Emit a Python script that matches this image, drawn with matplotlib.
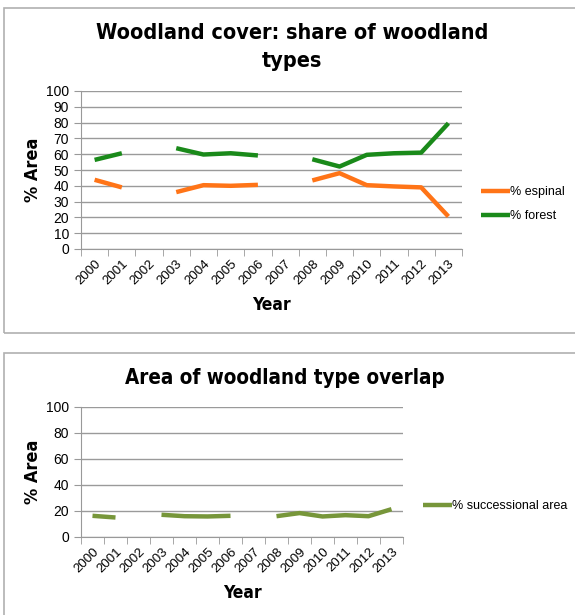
import numpy as np
import matplotlib.pyplot as plt
from matplotlib.patches import Rectangle

years = ["2000", "2001", "2002", "2003", "2004", "2005", "2006",
         "2007", "2008", "2009", "2010", "2011", "2012", "2013"]
espinal = [43.8, 39.0, np.nan, 36.0, 40.4, 40.0, 40.6,
           np.nan, 43.4, 48.0, 40.4, 39.6, 39.0, 20.6]
forest = [56.4, 60.6, np.nan, 63.8, 59.8, 60.6, 59.2,
          np.nan, 56.8, 52.2, 59.6, 60.6, 61.0, 79.6]
successional = [16.3, 15.0, np.nan, 17.1, 16.0, 15.8, 16.3,
                np.nan, 16.0, 18.4, 15.8, 16.8, 16.0, 21.4]

plt.rcParams['font.family'] = ['Liberation Sans', 'DejaVu Sans']
heavy = dict(family='DejaVu Sans', fontstretch='condensed', fontweight='heavy')

fig = plt.figure(figsize=(5.75, 6.15), dpi=100)
W, H = 575, 615

# panel frames
fig.patches.append(Rectangle((4 / W, 1 - 333 / H), 1.0, 325 / H,
                             transform=fig.transFigure, fill=False,
                             edgecolor="#b0b0b0", lw=1.2))
fig.patches.append(Rectangle((4 / W, -0.05), 1.0, 1 - 353 / H + 0.05,
                             transform=fig.transFigure, fill=False,
                             edgecolor="#b0b0b0", lw=1.2))


def style_axes(ax, ymax, ystep):
    x = np.arange(len(years))
    ax.set_xlim(-0.5, len(years) - 0.5)
    ax.set_ylim(0, ymax)
    ax.set_yticks(np.arange(0, ymax + 1, ystep))
    ax.set_xticks(x)
    ax.set_xticklabels(years, rotation=45, ha="right", rotation_mode="anchor",
                       fontsize=9.5)
    ax.set_xticks(np.arange(-0.5, len(years)), minor=True)
    ax.tick_params(axis="x", which="major", length=0, pad=6)
    ax.tick_params(axis="x", which="minor", length=5, color="#999999")
    ax.tick_params(axis="y", length=5, color="#999999", labelsize=10)
    ax.grid(axis="y", color="#9a9a9a", lw=1)
    ax.set_axisbelow(True)
    for s in ["top", "right"]:
        ax.spines[s].set_visible(False)
    for s in ["left", "bottom"]:
        ax.spines[s].set_color("#999999")


x = np.arange(len(years))

# top chart
ax1 = fig.add_axes([81 / W, 1 - 249 / H, 381 / W, 158 / H])
ax1.plot(x, espinal, color="#ff7417", lw=3.2, label="% espinal", solid_capstyle="butt")
ax1.plot(x, forest, color="#1a8a1a", lw=3.2, label="% forest", solid_capstyle="butt")
style_axes(ax1, 100, 10)
ax1.legend(loc="center left", bbox_to_anchor=(1 + 19 / 381, 0.285), frameon=False,
           fontsize=9, handlelength=2.3, handletextpad=0.05, labelspacing=0.95,
           borderpad=0, borderaxespad=0)
fig.text(292 / W, 1 - 47 / H, "Woodland cover: share of woodland\ntypes",
         ha="center", va="center", fontsize=15.5, linespacing=1.45, **heavy)
fig.text(33 / W, 1 - 170 / H, "% Area", rotation=90, ha="center", va="center",
         fontsize=13, **heavy)
fig.text(271 / W, 1 - 305 / H, "Year", ha="center", va="center",
         fontsize=12.5, **heavy)

# bottom chart
ax2 = fig.add_axes([81 / W, 1 - 537 / H, 322 / W, 130 / H])
ax2.plot(x, successional, color="#77963a", lw=3.2, label="% successional area",
         solid_capstyle="butt")
style_axes(ax2, 100, 20)
ax2.legend(loc="center left", bbox_to_anchor=(1 + 20 / 322, 0.238), frameon=False,
           fontsize=9, handlelength=2.3, handletextpad=0.05,
           borderpad=0, borderaxespad=0)
fig.text(285 / W, 1 - 378 / H, "Area of woodland type overlap",
         ha="center", va="center", fontsize=14.8, **heavy)
fig.text(33 / W, 1 - 472 / H, "% Area", rotation=90, ha="center", va="center",
         fontsize=13, **heavy)
fig.text(242 / W, 1 - 593 / H, "Year", ha="center", va="center",
         fontsize=12.5, **heavy)

fig.savefig("out.png", dpi=100)
